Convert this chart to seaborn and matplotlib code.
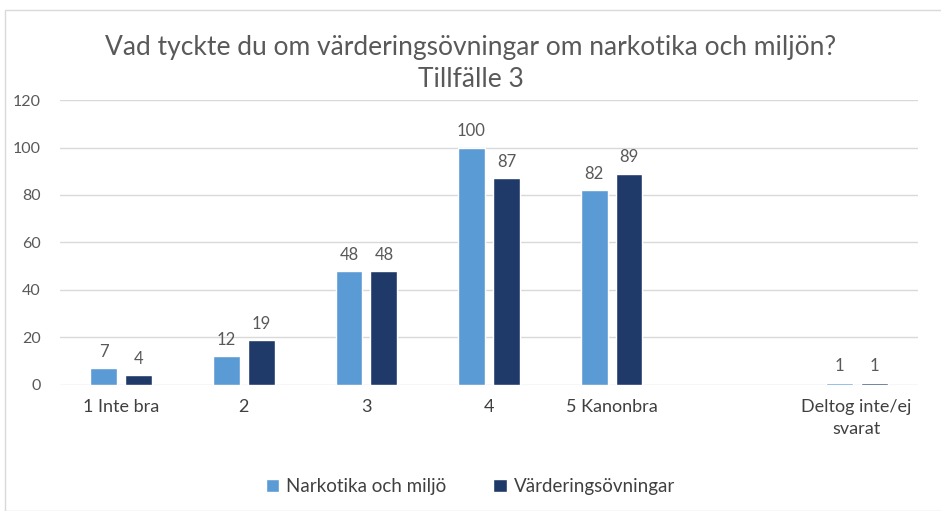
import pandas as pd
import matplotlib.pyplot as plt
import seaborn as sns
from matplotlib.patches import Rectangle

categories = ['1 Inte bra', '2', '3', '4', '5 Kanonbra', 'Deltog inte/ej\nsvarat']
narkotika = [7, 12, 48, 100, 82, 1]
vardering = [4, 19, 48, 87, 89, 1]
series_names = ['Narkotika och miljö', 'Värderingsövningar']
colors = ['#5b9bd5', '#1f3a68']

# empty slot between "5 Kanonbra" and the last group, as in the original
order = categories[:5] + [' '] + categories[5:]

df = pd.DataFrame({'Kategori': categories * 2,
                   'Serie': [series_names[0]] * 6 + [series_names[1]] * 6,
                   'Antal': narkotika + vardering})

sns.set_style('white')
plt.rcParams['font.family'] = ['Lato', 'DejaVu Sans']

fig = plt.figure(figsize=(9.41, 5.11), dpi=100)
ax = fig.add_axes([0.0638, 0.2466, 0.9117, 0.5577])

sns.barplot(data=df, x='Kategori', y='Antal', hue='Serie', order=order,
            hue_order=series_names, palette=colors, saturation=1,
            width=0.57, gap=0.23, ax=ax, legend=True)

for c in ax.containers:
    ax.bar_label(c, padding=6, color='#595959', fontsize=12)

ax.set_ylim(0, 120)
ax.set_yticks(range(0, 121, 20))
ax.yaxis.grid(True, color='#d9d9d9', linewidth=1)
ax.set_axisbelow(True)
for s in ax.spines.values():
    s.set_visible(False)
ax.tick_params(axis='y', length=0, labelsize=11.5, labelcolor='#595959', pad=14)
ax.tick_params(axis='x', length=0, labelsize=13, labelcolor='#404040', pad=10)
for t in ax.get_xticklabels():
    t.set_linespacing(1.5)
ax.set_xlabel('')
ax.set_ylabel('')
ax.set_xlim(-0.5, len(order) - 0.5)

fig.text(0.5, 0.876, 'Vad tyckte du om värderingsövningar om narkotika och miljön?\nTillfälle 3',
         ha='center', va='center', fontsize=19, color='#595959', linespacing=1.35)

leg = ax.legend(loc='center', ncol=2, frameon=False, fontsize=13.5,
                handlelength=0.7, handleheight=0.7, columnspacing=2.5,
                handletextpad=0.4, labelcolor='#404040')
leg.set_bbox_to_anchor((0.5, 0.047), transform=fig.transFigure)

fig.patches.append(Rectangle((0.005, 0.0), 1.0, 0.98, transform=fig.transFigure,
                             fill=False, edgecolor='#d9d9d9', linewidth=1))

fig.savefig('out.png', dpi=100)
